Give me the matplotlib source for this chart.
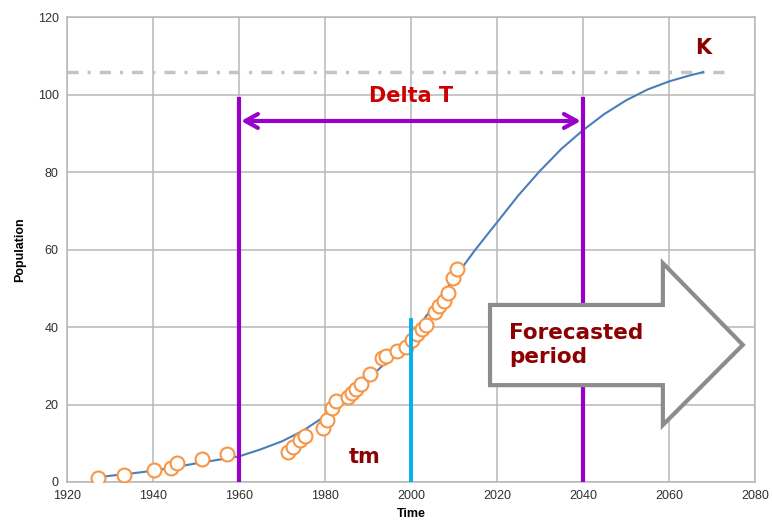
import matplotlib
matplotlib.use("Agg")
import matplotlib.pyplot as plt
from matplotlib.patches import Polygon

# observed data points (year, population)
obs_year = [1927.1, 1933.3, 1940.3, 1944.3, 1945.5, 1951.3, 1957.3, 1971.5, 1972.6,
            1974.2, 1975.3, 1979.5, 1980.4, 1981.6, 1982.6, 1985.4, 1986.2, 1987.2,
            1988.4, 1990.5, 1993.2, 1994.3, 1996.7, 1998.8, 2000.2, 2001.3, 2002.5,
            2003.6, 2005.6, 2006.6, 2007.7, 2008.7, 2009.7, 2010.6]
obs_pop = [0.9, 1.8, 3.1, 3.7, 5.0, 5.9, 7.1, 7.8, 9.1,
           10.8, 11.9, 13.9, 16.0, 19.0, 21.0, 22.0, 22.9, 23.9,
           25.2, 27.9, 31.9, 32.5, 33.9, 34.9, 36.6, 38.2, 39.4,
           40.5, 43.9, 45.4, 46.8, 48.9, 52.6, 54.9]

# fitted curve
fit_year = [1927, 1930, 1935, 1940, 1945, 1950, 1955, 1960, 1965, 1970, 1975, 1980,
            1985, 1990, 1995, 2000, 2005, 2010, 2015, 2020, 2025, 2030, 2035, 2040,
            2045, 2050, 2055, 2060, 2065, 2068]
fit_pop = [1.2, 1.6, 2.2, 2.9, 3.8, 4.8, 5.7, 6.6, 8.4, 10.5, 13.3, 17.0,
           21.5, 26.5, 31.7, 37.5, 45.0, 52.5, 60.0, 67.0, 74.0, 80.3, 86.0, 90.8,
           95.0, 98.5, 101.3, 103.4, 105.0, 105.8]

K = 105.8
t_start, t_mid, t_end = 1960, 2000, 2040

# forecast arrow outline (year, population)
arrow_x = [2018.4, 2058.6, 2058.6, 2077.2, 2058.6, 2058.6, 2018.4]
arrow_y = [45.7, 45.7, 56.5, 35.4, 14.7, 25.0, 25.0]

fig = plt.figure(figsize=(7.72, 5.30), dpi=100)
ax = fig.add_axes([0.0868, 0.0906, 0.891, 0.877])

ax.set_xlim(1920, 2080)
ax.set_ylim(0, 120)
ax.set_xticks(range(1920, 2081, 20))
ax.set_yticks(range(0, 121, 20))
ax.grid(True, color="#b8b8b8", linewidth=1.1)
ax.set_axisbelow(True)
for s in ax.spines.values():
    s.set_color("#b8b8b8")
    s.set_linewidth(1.1)
ax.tick_params(length=0, labelsize=9, labelcolor="#303030", pad=6)
for lab in ax.get_xticklabels() + ax.get_yticklabels():
    lab.set_family("Liberation Sans")
ax.set_xlabel("Time", fontsize=9, fontweight="bold", family="Liberation Sans", labelpad=4)
ax.set_ylabel("Population", fontsize=9, fontweight="bold", family="Liberation Sans", labelpad=8)

# carrying capacity
ax.plot([1920, 2073], [K, K], color="#c4c4c4", linewidth=2.5,
        dashes=(3.2, 2.6, 0.9, 2.6), zorder=2)

ax.plot(fit_year, fit_pop, color="#4a7ebb", linewidth=1.5, zorder=3)
ax.plot(obs_year, obs_pop, "o", markersize=10, markerfacecolor="white",
        markeredgecolor="#f79646", markeredgewidth=1.5, zorder=4)

purple = "#9900cc"
ax.plot([t_start, t_start], [0, 98.8], color=purple, linewidth=3, zorder=5)
ax.plot([t_end, t_end], [0, 98.8], color=purple, linewidth=3, zorder=5)
ax.annotate("", xy=(t_start + 0.5, 93.2), xytext=(t_end - 0.5, 93.2),
            arrowprops=dict(arrowstyle="<->,head_length=0.9,head_width=0.5",
                            color=purple, linewidth=3, shrinkA=0, shrinkB=0),
            zorder=5)
ax.text(2000, 99.6, "Delta T", color="#cc0000", fontsize=15, fontweight="bold",
        ha="center", va="center", family="DejaVu Sans")

ax.plot([t_mid, t_mid], [0, 41.8], color="#00b0f0", linewidth=2.8, zorder=5)
ax.text(1989.3, 6.5, "tm", color="#8b0000", fontsize=15, fontweight="bold",
        ha="center", va="center", family="DejaVu Sans")
ax.text(2067.9, 112, "K", color="#8b0000", fontsize=15, fontweight="bold",
        ha="center", va="center", family="DejaVu Sans")

arrow = Polygon(list(zip(arrow_x, arrow_y)), closed=True, facecolor="white",
                edgecolor="#8c8c8c", linewidth=3, zorder=6)
ax.add_patch(arrow)
ax.text(2022.8, 35.3, "Forecasted\nperiod", color="#8b0000", fontsize=15.5,
        fontweight="bold", ha="left", va="center", linespacing=1.25,
        family="DejaVu Sans", zorder=7)

fig.savefig("out.png", dpi=100)
